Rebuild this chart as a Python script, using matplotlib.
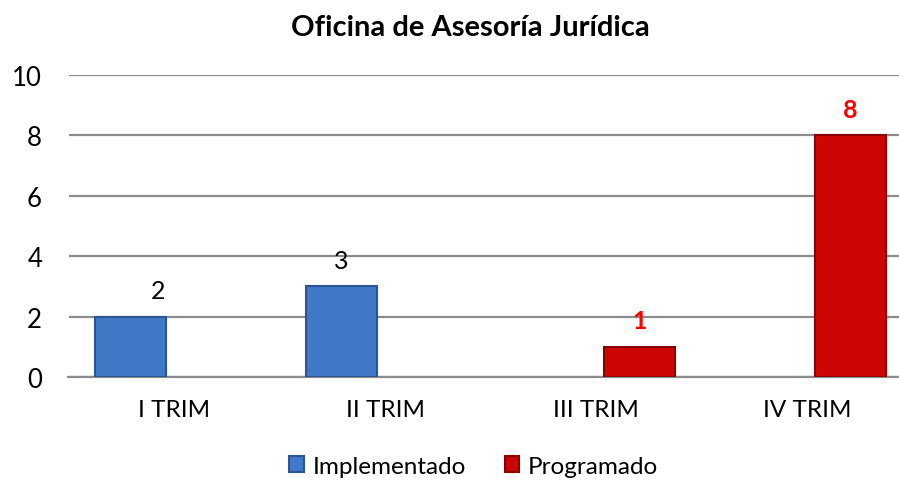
import numpy as np
import matplotlib.pyplot as plt

plt.rcParams['font.family'] = ['Lato', 'DejaVu Sans']

trimestres = ['I TRIM', 'II TRIM', 'III TRIM', 'IV TRIM']
implementado = [2, 3, 0, 0]
programado = [0, 0, 1, 8]

x = np.arange(len(trimestres))
ancho = 0.336
desp = 0.206

# barras con valor cero no se dibujan
impl = np.where(np.array(implementado) > 0, implementado, np.nan)
prog = np.where(np.array(programado) > 0, programado, np.nan)

fig = plt.figure(figsize=(8.99, 4.81), dpi=100)
ax = fig.add_axes([68.5 / 899, 0.2141, 830.5 / 899, 0.628])

b1 = ax.bar(x - desp, impl, ancho, color='#4079C6', edgecolor='#2A5592',
            linewidth=1.5, label='Implementado', zorder=3)
b2 = ax.bar(x + desp, prog, ancho, color='#CC0505', edgecolor='#8A0000',
            linewidth=1.5, label='Programado', zorder=3)

# etiquetas de valor
for xi, v in zip(x, implementado):
    if v:
        dx = 0.13 if xi == 0 else 0.0
        ax.text(xi - desp + dx, v + 0.87, str(v), ha='center', va='center',
                fontsize=18, color='black')
for xi, v in zip(x, programado):
    if v:
        ax.text(xi + desp, v + 0.87, str(v), ha='center', va='center', fontsize=18,
                color='#FF0000', fontweight='bold')

ax.set_xlim(-0.5, 3.436)
ax.set_ylim(0, 10)
ax.set_yticks(range(0, 11, 2))
ax.set_xticks(x)
ax.set_xticklabels(trimestres)
ax.tick_params(axis='both', length=0)
ax.tick_params(axis='x', pad=16, labelsize=17.5)
ax.tick_params(axis='y', pad=19, labelsize=18.5)
ax.grid(axis='y', color='#8C8C8C', linewidth=1.6, zorder=0)
for s in ['top', 'right', 'left']:
    ax.spines[s].set_visible(False)
ax.spines['bottom'].set_color('#8C8C8C')
ax.spines['bottom'].set_linewidth(1.6)

fig.text(0.523, 0.942, 'Oficina de Asesoría Jurídica', ha='center', va='center',
         fontsize=21, fontweight='bold')

fig.legend(handles=[b1, b2], loc='center', bbox_to_anchor=(0.527, 0.029), ncol=2,
           frameon=False, fontsize=17.5, handlelength=0.6, handleheight=0.6,
           handletextpad=0.35, columnspacing=1.6)

fig.savefig('out.png', dpi=100)
